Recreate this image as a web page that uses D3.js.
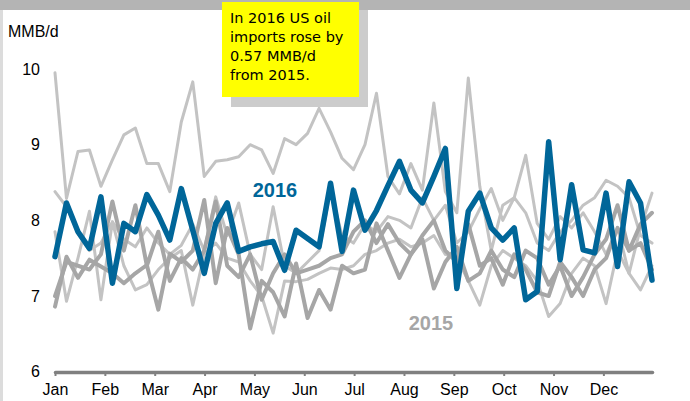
<!DOCTYPE html>
<html><head><meta charset="utf-8">
<script src="https://cdn.jsdelivr.net/npm/d3@7"></script>
<style>html,body{margin:0;padding:0;background:#fff}svg{display:block}</style>
</head><body>
<svg id="chart" width="690" height="401"></svg>
<script>
// ---- data ----
const months = ["Jan","Feb","Mar","Apr","May","Jun","Jul","Aug","Sep","Oct","Nov","Dec"];
const yTicks = [6, 7, 8, 9, 10];
const noteLines = ["In 2016 US oil", "imports rose by", "0.57 MMB/d", "from 2015."];

const y2016 = [7.52,8.23,7.85,7.63,8.31,7.17,7.96,7.85,8.34,8.07,7.74,8.42,7.87,7.30,7.96,8.23,7.59,7.65,7.69,7.72,7.34,7.87,7.76,7.65,8.49,7.59,8.40,7.87,8.13,8.46,8.78,8.40,8.23,8.58,8.95,7.10,8.12,8.36,7.90,7.74,7.90,6.95,7.06,9.04,7.48,8.47,7.61,7.57,8.36,7.39,8.51,8.23,7.21];
const y2015 = [7.00,7.45,7.40,7.35,7.55,8.25,7.60,8.20,7.40,7.85,7.20,7.50,7.35,7.60,8.25,7.40,7.25,7.55,6.95,7.30,7.55,7.30,7.35,7.40,7.50,7.55,7.85,8.00,7.70,7.95,7.70,7.55,7.80,8.00,7.60,7.45,7.95,7.40,7.50,7.15,7.55,7.35,7.05,7.00,7.45,7.25,7.00,7.35,7.50,7.90,7.60,7.70,7.35];
const y2014 = [6.86,7.52,7.24,7.48,7.39,7.30,7.17,7.30,7.41,6.82,7.56,7.45,7.60,8.27,7.17,7.90,7.55,6.57,7.20,7.05,6.73,7.43,6.71,7.08,6.82,7.40,7.30,7.35,7.96,7.60,7.24,7.55,7.75,7.10,7.45,7.65,7.20,7.30,7.60,7.35,7.25,7.60,7.50,7.15,7.40,7.00,7.25,7.55,7.75,8.20,7.60,7.95,8.10];
const y2013 = [7.85,6.93,7.50,8.12,6.95,7.98,7.40,7.08,7.15,7.35,7.50,7.60,6.88,7.55,7.70,7.50,7.45,7.20,7.00,6.51,7.20,7.19,7.22,7.30,7.37,7.35,7.40,7.55,7.60,7.70,7.75,7.65,7.70,7.80,7.55,7.50,7.20,6.88,7.40,7.60,7.50,7.40,7.20,6.73,6.90,7.30,7.50,7.40,6.90,7.60,7.30,7.08,7.40];
const y2012 = [8.38,8.18,7.83,7.60,7.70,7.98,7.75,7.65,7.90,7.70,7.55,7.67,7.95,7.60,8.31,7.80,8.23,7.55,7.35,8.18,7.40,7.30,7.45,7.60,8.40,7.80,7.70,7.95,7.85,8.05,8.00,7.90,8.30,8.00,8.20,7.70,7.85,8.15,8.42,8.00,8.30,8.10,7.70,7.60,7.85,8.00,8.20,8.30,8.53,8.45,8.30,7.80,7.70];
const y2011 = [9.95,8.29,8.91,8.93,8.45,8.80,9.13,9.22,8.75,8.75,8.38,9.30,9.83,8.58,8.78,8.80,8.84,9.00,8.93,8.62,9.08,9.00,9.15,9.48,9.17,8.82,8.67,9.00,9.68,8.58,8.35,8.75,8.40,9.55,8.38,8.10,9.88,8.45,7.60,8.20,8.30,8.86,7.96,7.75,8.05,7.90,8.10,7.85,7.55,7.90,7.30,7.90,8.36];

const series = [
  {name:"2011", values:y2011, color:"#c3c3c3", width:3},
  {name:"2012", values:y2012, color:"#c3c3c3", width:3},
  {name:"2013", values:y2013, color:"#c3c3c3", width:3},
  {name:"2014", values:y2014, color:"#a6a6a6", width:4},
  {name:"2015", values:y2015, color:"#a6a6a6", width:4},
  {name:"2016", values:y2016, color:"#006699", width:5.5}
];

const svg = d3.select("#chart");
const W = 690, H = 401;

// frame decorations
svg.append("rect").attr("x",0).attr("y",0).attr("width",W).attr("height",H).attr("fill","#ffffff");
svg.append("rect").attr("x",0).attr("y",0).attr("width",3).attr("height",H).attr("fill","#dcdcdc");
svg.append("rect").attr("x",0).attr("y",0).attr("width",W).attr("height",10).attr("fill","#b4b4b4");

// scales
const x = d3.scaleLinear().domain([0, y2016.length - 1]).range([55, 652]);
const xm = d3.scaleLinear().domain([0, 11.975]).range([55, 652]);
const y = d3.scaleLinear().domain([6, 10]).range([371.7, 69]);

// lines
const line = d3.line().x((d,i)=>x(i)).y(d=>y(d));
svg.append("g").selectAll("path").data(series).join("path")
  .attr("d", d=>line(d.values))
  .attr("fill","none")
  .attr("stroke", d=>d.color)
  .attr("stroke-width", d=>d.width)
  .attr("stroke-linejoin","round")
  .attr("stroke-linecap","round");

// x axis
const xAxis = d3.axisBottom(xm).tickValues(d3.range(12)).tickFormat(i=>months[i]).tickSize(3).tickSizeOuter(0);
const gx = svg.append("g").attr("transform","translate(0,372)").call(xAxis);
gx.select(".domain").attr("stroke","#808080").attr("stroke-width",3.5).attr("stroke-linecap","round");
gx.selectAll(".tick line").attr("stroke","#808080").attr("stroke-width",2).attr("y1",1).attr("y2",4);
gx.selectAll(".tick text").attr("font-family","Liberation Sans, Arial, sans-serif").attr("font-size",16)
  .attr("fill","#000").attr("y",12).attr("dy","0.71em");

// y labels
svg.append("g").selectAll("text").data(yTicks).join("text")
  .attr("x",40).attr("y",d=>y(d)).attr("dy","0.35em")
  .attr("text-anchor","end")
  .attr("font-family","Liberation Sans, Arial, sans-serif").attr("font-size",16).attr("fill","#000")
  .text(d=>d);

svg.append("text").attr("x",8).attr("y",37)
  .attr("font-family","Liberation Sans, Arial, sans-serif").attr("font-size",16).attr("fill","#000")
  .text("MMB/d");

// series labels
svg.append("text").attr("x",275).attr("y",197).attr("text-anchor","middle")
  .attr("font-family","Liberation Sans, Arial, sans-serif").attr("font-weight","bold").attr("font-size",20)
  .attr("fill","#006699").text("2016");
svg.append("text").attr("x",431).attr("y",330).attr("text-anchor","middle")
  .attr("font-family","Liberation Sans, Arial, sans-serif").attr("font-weight","bold").attr("font-size",20)
  .attr("fill","#a6a6a6").text("2015");

// note box
svg.append("rect").attr("x",231).attr("y",10).attr("width",137).attr("height",97).attr("fill","#cccccc");
svg.append("rect").attr("x",222).attr("y",2).attr("width",137).attr("height",95).attr("fill","#ffff00");
svg.append("g").selectAll("text").data(noteLines).join("text")
  .attr("x",230).attr("y",(d,i)=>23+i*19)
  .attr("font-family","'DejaVu Sans',sans-serif").attr("font-size",14.5).attr("fill","#000")
  .text(d=>d);
</script>
</body></html>
